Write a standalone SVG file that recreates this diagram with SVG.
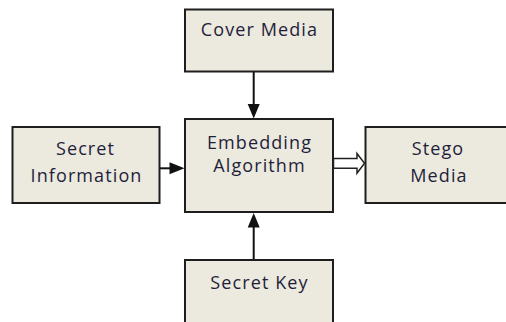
<svg xmlns="http://www.w3.org/2000/svg" width="506" height="322" viewBox="0 0 506 322">
<defs>
<style>
.box{fill:#ECE9DF;stroke:#1e1e1e;stroke-width:2}
.lbl{font-family:"Open Sans","Liberation Sans",sans-serif;font-size:18px;letter-spacing:1.1px;fill:#1f1f3a;text-anchor:middle}
.conn{stroke:#111;stroke-width:2;fill:none}
.head{fill:#111}
.hollow{fill:#fff;stroke:#222;stroke-width:1.5;stroke-linejoin:miter}
</style>
<marker id="arr" viewBox="0 0 10 10" refX="10" refY="5" markerWidth="8" markerHeight="8" markerUnits="userSpaceOnUse" orient="auto">
<path d="M0,0 L10,5 L0,10 Z" class="head"/>
</marker>
</defs>
<rect width="506" height="322" fill="#ffffff"/>
<g id="connectors">
<line class="conn" x1="253.7" y1="72" x2="253.7" y2="104"/>
<path class="head" d="M247.7,104 L259.7,104 L253.7,118.5 Z"/>
<line class="conn" x1="159.5" y1="168.3" x2="170" y2="168.3"/>
<path class="head" d="M169.5,162.3 L184.5,168.3 L169.5,174.3 Z"/>
<line class="conn" x1="253.7" y1="259.5" x2="253.7" y2="227"/>
<path class="head" d="M247.7,227.5 L259.7,227.5 L253.7,213 Z"/>
<path class="hollow" d="M333.5,158.5 L357,158.5 L357,153.5 L364.5,163.3 L357,173.2 L357,168.2 L333.5,168.2 Z"/>
</g>
<g id="cover-media">
<rect class="box" x="185" y="9.5" width="148" height="62"/>
<text class="lbl" x="259.5" y="36">Cover Media</text>
</g>
<g id="embedding-algorithm">
<rect class="box" x="185" y="119" width="148" height="93"/>
<text class="lbl" x="259.5" y="149">Embedding</text>
<text class="lbl" x="259.5" y="171.5">Algorithm</text>
</g>
<g id="secret-information">
<rect class="box" x="12.5" y="127" width="147" height="76"/>
<text class="lbl" x="85.5" y="155">Secret</text>
<text class="lbl" x="86.5" y="181.5">Information</text>
</g>
<g id="stego-media">
<rect class="box" x="365.5" y="127" width="150" height="76"/>
<text class="lbl" x="438" y="155">Stego</text>
<text class="lbl" x="439" y="181.5">Media</text>
</g>
<g id="secret-key">
<rect class="box" x="185" y="260" width="148" height="70"/>
<text class="lbl" x="259.5" y="288.5">Secret Key</text>
</g>
</svg>
